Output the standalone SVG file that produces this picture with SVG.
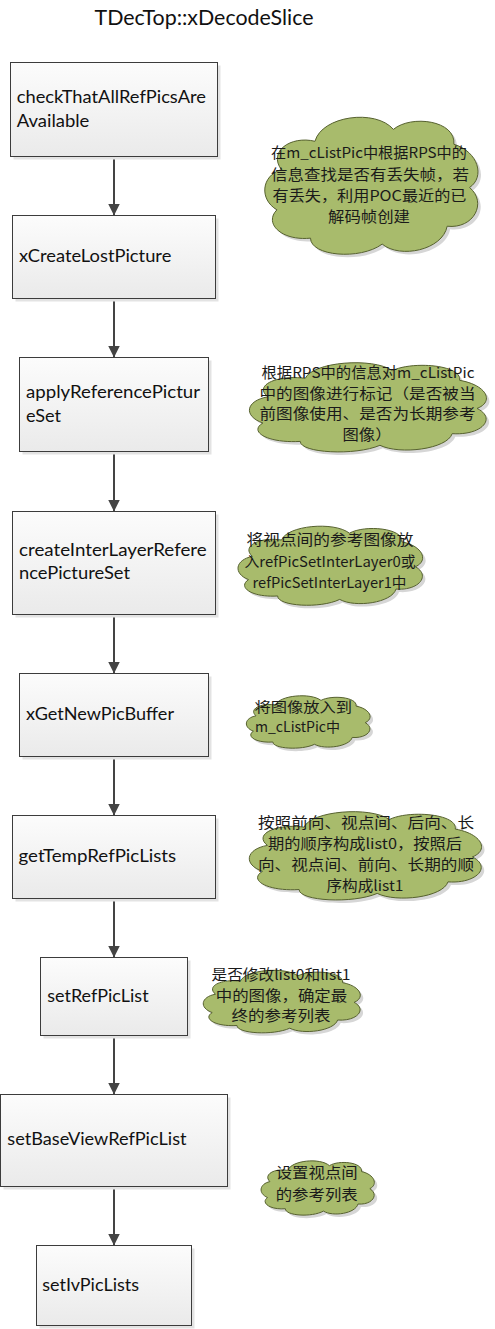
<svg xmlns="http://www.w3.org/2000/svg" xmlns:xlink="http://www.w3.org/1999/xlink" width="495" height="1329" viewBox="0 0 495 1329">
<style>
.box{fill:url(#boxg);stroke:#3c3c3c;stroke-width:1}
.shadow{fill:#e3e3e3}
.lbl{font-family:Lato,"Liberation Sans",sans-serif;font-size:16.5px;fill:#111}
.title{font-family:Lato,"Liberation Sans",sans-serif;font-size:21px;fill:#111}
.note{font-family:"Noto Sans CJK SC","Noto Sans",sans-serif;font-size:14.5px;fill:#1a1a1a;text-anchor:middle}
.notel{font-family:"Noto Sans CJK SC","Noto Sans",sans-serif;font-size:14px;fill:#1a1a1a}
.cloud{fill:#a8bb6c;stroke:#56612f;stroke-width:1}
.cshadow{fill:#d6d6d6;stroke:none}
.conn{stroke:#444;stroke-width:2;fill:none;marker-end:url(#arr)}
</style>
<defs>
<linearGradient id="boxg" x1="0" y1="0" x2="0" y2="1">
<stop offset="0" stop-color="#fcfcfc"/>
<stop offset="1" stop-color="#eaeaea"/>
</linearGradient>
<marker id="arr" markerUnits="userSpaceOnUse" viewBox="0 0 12 12" refX="12" refY="6" markerWidth="12" markerHeight="12" orient="auto">
<path d="M0,0 L12,6 L0,12 Z" fill="#444"/>
</marker>
<path id="cl" vector-effect="non-scaling-stroke" d="M10,40 C4,28 14,17 25,21 C28,4 52,-1 60,13 C68,3 88,7 87,23 C98,28 101,45 94,52 C102,62 96,80 84,78 C82,94 63,100 55,90 C45,101 23,98 23,86 C10,88 2,76 8,67 C0,60 1,44 10,40 Z"/>
</defs>
<rect width="495" height="1329" fill="#fff"/>
<text class="title" x="94.5" y="25" textLength="219" lengthAdjust="spacingAndGlyphs">TDecTop::xDecodeSlice</text>

<g id="connectors">
<line class="conn" x1="114" y1="156.5" x2="114" y2="215.5"/>
<line class="conn" x1="114" y1="298.5" x2="114" y2="357.5"/>
<line class="conn" x1="114" y1="451.5" x2="114" y2="511.5"/>
<line class="conn" x1="114" y1="614.5" x2="114" y2="673.5"/>
<line class="conn" x1="114" y1="756.5" x2="114" y2="815.5"/>
<line class="conn" x1="114" y1="898.5" x2="114" y2="957.5"/>
<line class="conn" x1="114" y1="1035.5" x2="114" y2="1094.5"/>
<line class="conn" x1="114" y1="1186.5" x2="114" y2="1245.5"/>
</g>

<g id="n1">
<rect class="shadow" x="13.5" y="65.5" width="207" height="94"/>
<rect class="box" x="10.5" y="62.5" width="207" height="94"/>
<text class="lbl" x="16.7" y="103" textLength="189.3" lengthAdjust="spacingAndGlyphs">checkThatAllRefPicsAre</text>
<text class="lbl" x="16.7" y="127" textLength="72.7" lengthAdjust="spacingAndGlyphs">Available</text>
</g>
<g id="n2">
<rect class="shadow" x="15.5" y="218.5" width="203" height="83"/>
<rect class="box" x="12.5" y="215.5" width="203" height="83"/>
<text class="lbl" x="19" y="262" textLength="152.3" lengthAdjust="spacingAndGlyphs">xCreateLostPicture</text>
</g>
<g id="n3">
<rect class="shadow" x="22.5" y="360.5" width="189" height="94"/>
<rect class="box" x="19.5" y="357.5" width="189" height="94"/>
<text class="lbl" x="26" y="398" textLength="174" lengthAdjust="spacingAndGlyphs">applyReferencePictur</text>
<text class="lbl" x="26" y="421.5" textLength="35" lengthAdjust="spacingAndGlyphs">eSet</text>
</g>
<g id="n4">
<rect class="shadow" x="15.5" y="514.5" width="203" height="103"/>
<rect class="box" x="12.5" y="511.5" width="203" height="103"/>
<text class="lbl" x="19" y="556" textLength="187.7" lengthAdjust="spacingAndGlyphs">createInterLayerRefere</text>
<text class="lbl" x="19" y="579" textLength="111" lengthAdjust="spacingAndGlyphs">ncePictureSet</text>
</g>
<g id="n5">
<rect class="shadow" x="22.5" y="676.5" width="189" height="83"/>
<rect class="box" x="19.5" y="673.5" width="189" height="83"/>
<text class="lbl" x="26" y="720" textLength="148" lengthAdjust="spacingAndGlyphs">xGetNewPicBuffer</text>
</g>
<g id="n6">
<rect class="shadow" x="15.5" y="818.5" width="203" height="83"/>
<rect class="box" x="12.5" y="815.5" width="203" height="83"/>
<text class="lbl" x="18.5" y="862" textLength="157.7" lengthAdjust="spacingAndGlyphs">getTempRefPicLists</text>
</g>
<g id="n7">
<rect class="shadow" x="43.5" y="960.5" width="147" height="78"/>
<rect class="box" x="40.5" y="957.5" width="147" height="78"/>
<text class="lbl" x="47.3" y="1001.5" textLength="101.3" lengthAdjust="spacingAndGlyphs">setRefPicList</text>
</g>
<g id="n8">
<rect class="shadow" x="3.5" y="1097.5" width="227" height="92"/>
<rect class="box" x="0.5" y="1094.5" width="227" height="92"/>
<text class="lbl" x="7.3" y="1145" textLength="179.3" lengthAdjust="spacingAndGlyphs">setBaseViewRefPicList</text>
</g>
<g id="n9">
<rect class="shadow" x="39.5" y="1248.5" width="155" height="80"/>
<rect class="box" x="36.5" y="1245.5" width="155" height="80"/>
<text class="lbl" x="42.3" y="1290.5" textLength="96.7" lengthAdjust="spacingAndGlyphs">setIvPicLists</text>
</g>

<g id="c1">
<use xlink:href="#cl" class="cshadow" transform="translate(262,113) scale(2.24,1.49)"/>
<use xlink:href="#cl" class="cloud" transform="translate(259,110) scale(2.24,1.49)"/>
<text class="note" x="369" y="158" textLength="196" lengthAdjust="spacingAndGlyphs">在m_cListPic中根据RPS中的</text>
<text class="note" x="370" y="180" textLength="198" lengthAdjust="spacingAndGlyphs">信息查找是否有丢失帧，若</text>
<text class="note" x="369.5" y="201" textLength="194" lengthAdjust="spacingAndGlyphs">有丢失，利用POC最近的已</text>
<text class="note" x="369" y="222" textLength="82" lengthAdjust="spacingAndGlyphs">解码帧创建</text>
</g>
<g id="c2">
<use xlink:href="#cl" class="cshadow" transform="translate(246,361) scale(2.49,0.97)"/>
<use xlink:href="#cl" class="cloud" transform="translate(243,358) scale(2.49,0.97)"/>
<text class="note" x="368" y="378" textLength="213" lengthAdjust="spacingAndGlyphs">根据RPS中的信息对m_cListPic</text>
<text class="note" x="367.5" y="399" textLength="216" lengthAdjust="spacingAndGlyphs">中的图像进行标记（是否被当</text>
<text class="note" x="367.5" y="419" textLength="216" lengthAdjust="spacingAndGlyphs">前图像使用、是否为长期参考</text>
<text class="note" x="367" y="440" textLength="49" lengthAdjust="spacingAndGlyphs">图像）</text>
</g>
<g id="c3">
<use xlink:href="#cl" class="cshadow" transform="translate(236,525) scale(1.94,0.86)"/>
<use xlink:href="#cl" class="cloud" transform="translate(233,522) scale(1.94,0.86)"/>
<text class="note" x="330" y="545" textLength="167" lengthAdjust="spacingAndGlyphs">将视点间的参考图像放</text>
<text class="note" x="330" y="567" textLength="171" lengthAdjust="spacingAndGlyphs">入refPicSetInterLayer0或</text>
<text class="note" x="329.5" y="588" textLength="154" lengthAdjust="spacingAndGlyphs">refPicSetInterLayer1中</text>
</g>
<g id="c4">
<use xlink:href="#cl" class="cshadow" transform="translate(246,696) scale(1.30,0.57)"/>
<use xlink:href="#cl" class="cloud" transform="translate(243,693) scale(1.30,0.57)"/>
<text class="notel" x="254.5" y="712" textLength="97.5" lengthAdjust="spacingAndGlyphs">将图像放入到</text>
<text class="notel" x="255" y="732" textLength="85" lengthAdjust="spacingAndGlyphs">m_cListPic中</text>
</g>
<g id="c5">
<use xlink:href="#cl" class="cshadow" transform="translate(246,810) scale(2.44,0.96)"/>
<use xlink:href="#cl" class="cloud" transform="translate(243,807) scale(2.44,0.96)"/>
<text class="note" x="366" y="828" textLength="216" lengthAdjust="spacingAndGlyphs">按照前向、视点间、后向、长</text>
<text class="note" x="365" y="849" textLength="194" lengthAdjust="spacingAndGlyphs">期的顺序构成list0，按照后</text>
<text class="note" x="366" y="870" textLength="216" lengthAdjust="spacingAndGlyphs">向、视点间、前向、长期的顺</text>
<text class="note" x="365" y="891" textLength="77" lengthAdjust="spacingAndGlyphs">序构成list1</text>
</g>
<g id="c6">
<use xlink:href="#cl" class="cshadow" transform="translate(202,970) scale(1.65,0.68)"/>
<use xlink:href="#cl" class="cloud" transform="translate(199,967) scale(1.65,0.68)"/>
<text class="note" x="281" y="980" textLength="139" lengthAdjust="spacingAndGlyphs">是否修改list0和list1</text>
<text class="note" x="281.5" y="1000.5" textLength="131.5" lengthAdjust="spacingAndGlyphs">中的图像，确定最</text>
<text class="note" x="281" y="1021" textLength="99" lengthAdjust="spacingAndGlyphs">终的参考列表</text>
</g>
<g id="c7">
<use xlink:href="#cl" class="cshadow" transform="translate(261,1161) scale(1.19,0.59)"/>
<use xlink:href="#cl" class="cloud" transform="translate(258,1158) scale(1.19,0.59)"/>
<text class="note" x="316.7" y="1178" textLength="82" lengthAdjust="spacingAndGlyphs">设置视点间</text>
<text class="note" x="316.7" y="1200" textLength="82" lengthAdjust="spacingAndGlyphs">的参考列表</text>
</g>
</svg>
